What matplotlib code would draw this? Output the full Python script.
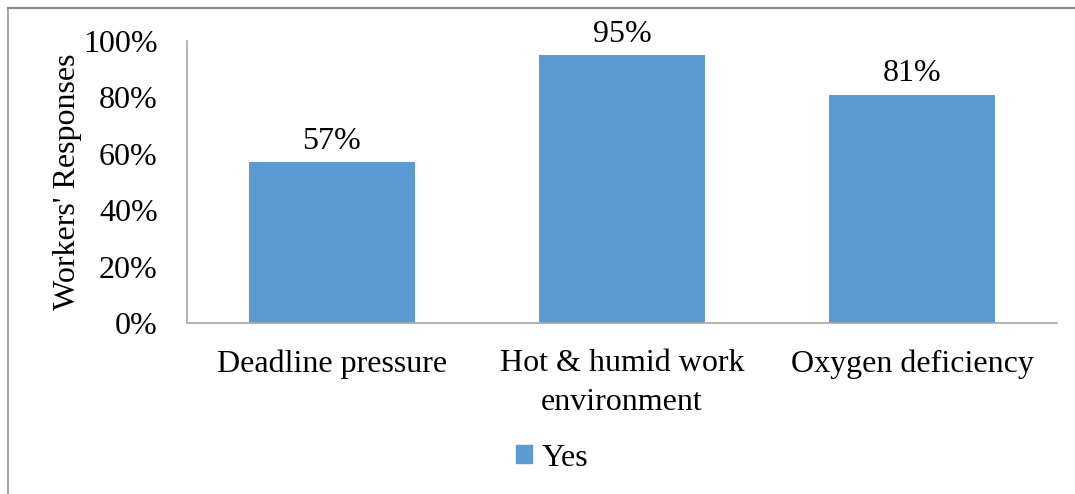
import matplotlib
matplotlib.use("Agg")
import matplotlib.pyplot as plt
from matplotlib.lines import Line2D
from matplotlib.patches import Patch

categories = ["Deadline pressure", "Hot & humid work\nenvironment", "Oxygen deficiency"]
values = [0.57, 0.95, 0.81]
value_labels = ["57%", "95%", "81%"]
yticks = [0, 0.2, 0.4, 0.6, 0.8, 1.0]
ytick_labels = ["0%", "20%", "40%", "60%", "80%", "100%"]
series_name = "Yes"

plt.rcParams['font.family'] = ['Liberation Serif', 'DejaVu Serif']
W, H = 1075, 494
FS = 23
fig = plt.figure(figsize=(W/100, H/100), dpi=100)
ax = fig.add_axes([187/W, 1-323/H, (1057-187)/W, (323-41)/H])

color = "#5B9BD5"
x = list(range(len(categories)))
bars = ax.bar(x, values, width=0.57, color=color, label=series_name)
ax.set_xlim(-0.5, len(categories)-0.5)
ax.set_ylim(0, 1.0)
for xi, v, lab in zip(x, values, value_labels):
    ax.annotate(lab, (xi, v), xytext=(0, 4.5), textcoords="offset points",
                ha="center", va="bottom", fontsize=FS)

ax.set_yticks(yticks)
ax.set_yticklabels(ytick_labels, fontsize=FS)
ax.set_xticks(x)
ax.set_xticklabels(categories, fontsize=FS, linespacing=1.42)
ax.tick_params(axis="both", length=0)
ax.tick_params(axis="y", pad=21)
ax.tick_params(axis="x", pad=19)
for s in ["top", "right"]:
    ax.spines[s].set_visible(False)
for s in ["left", "bottom"]:
    ax.spines[s].set_color("#A6A6A6")
    ax.spines[s].set_linewidth(1.2)
ax.set_ylabel("Workers' Responses", fontsize=FS, labelpad=1)

handle = Patch(facecolor=color, edgecolor=color)
fig.legend([handle], [series_name], loc="center", bbox_to_anchor=(552/W, 1-458/H),
           frameon=False, fontsize=FS, handlelength=0.5, handleheight=0.5,
           handletextpad=0.3)

# outer frame (partially clipped)
fig.add_artist(Line2D([7.5/W, 7.5/W], [0, 1-8/H], transform=fig.transFigure,
                      color="#A6A6A6", lw=1.5))
fig.add_artist(Line2D([7.5/W, 1], [1-8/H, 1-8/H], transform=fig.transFigure,
                      color="#888888", lw=1.5))

fig.savefig("out.png", dpi=100)
